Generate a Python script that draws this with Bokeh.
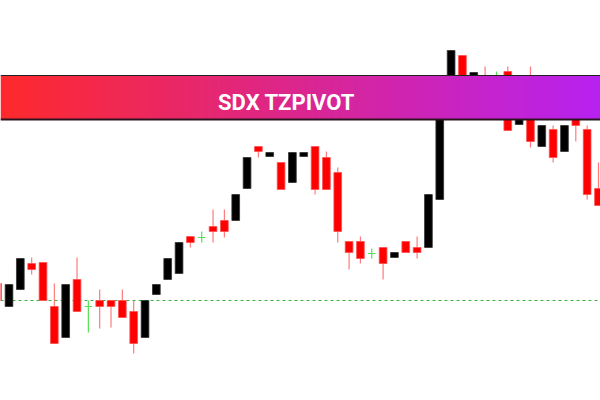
import numpy as np
from bokeh.plotting import figure
from bokeh.models import Span
from bokeh.core.properties import value
from bokeh.embed import file_html
from bokeh.resources import INLINE

# ---- data (price units) ----
idx = list(range(-1, 53))
opens = [117, 94, 111, 137, 138, 94, 63, 121, 94, 100, 100, 100, 89, 63, 106, 121, 127, 164, 163, 174, 180,
         180, 212, 254, 244, 238, 218, 244, 254, 243, 228, 159, 159, 147, 153, 143, 159, 153, 153, 201, 305,
         345, 320, 318, 312, 329, 276, 300, 254, 271, 249, 290, 271, 212]
closes = [100, 116, 142, 131, 100, 57, 116, 89, 94, 94, 94, 83, 57, 100, 116, 142, 158, 158, 163, 169, 169,
          206, 243, 249, 248, 211, 248, 248, 211, 211, 169, 148, 142, 147, 137, 148, 148, 148, 206, 300, 350,
          305, 328, 305, 312, 270, 300, 259, 275, 243, 275, 275, 206, 195]
highs = [117, 116, 142, 143, 138, 117, 116, 143, 100, 111, 100, 111, 100, 100, 116, 142, 158, 164, 169, 191, 191,
         206, 243, 254, 248, 238, 248, 248, 254, 249, 233, 159, 164, 152, 153, 148, 159, 164, 206, 300, 350,
         345, 328, 334, 329, 334, 300, 334, 275, 275, 275, 290, 275, 238]
lows = [100, 94, 111, 126, 100, 57, 63, 89, 68, 72, 73, 83, 47, 63, 106, 121, 127, 153, 158, 158, 163,
        180, 212, 243, 244, 211, 218, 244, 206, 211, 158, 131, 137, 142, 121, 143, 148, 142, 153, 201, 305,
        305, 320, 300, 300, 270, 276, 253, 254, 238, 249, 259, 201, 195]
pivot_level = 100
title_text = "SDX TZPIVOT"
banner_low, banner_high = 281, 325

# ---- figure ----
W, H = 600, 400
x0 = -8.5 / 11.336
x1 = x0 + W / 11.336
p = figure(width=W, height=H, x_range=(x0, x1), y_range=(0, 400),
           output_backend="svg", toolbar_location=None, min_border=0,
           background_fill_color="white", border_fill_color="white")
p.axis.visible = False
p.grid.visible = False
p.outline_line_color = None

p.add_layout(Span(location=pivot_level, dimension="width", line_color="#3cb043",
                  line_width=1, line_dash="3 3", level="underlay"))

o = np.array(opens, float); c = np.array(closes, float)
hi = np.array(highs, float); lo = np.array(lows, float); xs = np.array(idx, float)
up = c > o
down = c < o
doji = c == o

bw = 0.68
# wicks
p.segment(xs[down], hi[down], xs[down], lo[down], line_color="#ff7b7b", line_width=1.2)
p.segment(xs[up], hi[up], xs[up], lo[up], line_color="black", line_width=1)
p.segment(xs[doji], hi[doji], xs[doji], lo[doji], line_color="#55e055", line_width=1.2)
p.segment(xs[doji] - bw / 2, c[doji], xs[doji] + bw / 2, c[doji], line_color="#55e055", line_width=1.2)
# bodies
p.vbar(x=xs[down], width=bw, top=o[down], bottom=c[down], fill_color="#ff0000",
       line_color="#ff5050", line_width=0.8)
p.vbar(x=xs[up], width=bw, top=c[up], bottom=o[up], fill_color="#000000",
       line_color="#333333", line_width=0.8)

# banner gradient
n = 600
t = np.linspace(0, 1, n)
c_left = np.array([255, 42, 45]); c_right = np.array([184, 34, 242])
img = np.zeros((1, n), dtype=np.uint32)
view = img.view(dtype=np.uint8).reshape((1, n, 4))
for k in range(3):
    view[0, :, k] = (c_left[k] + (c_right[k] - c_left[k]) * t).astype(np.uint8)
view[0, :, 3] = 255
p.image_rgba(image=[img], x=x0, y=banner_low, dw=x1 - x0, dh=banner_high - banner_low)
p.segment(x0=[x0], y0=[banner_high], x1=[x1], y1=[banner_high], line_color="#222222", line_width=1.2)
p.segment(x0=[x0], y0=[banner_low], x1=[x1], y1=[banner_low], line_color="#2a1420", line_width=2)

p.text(x=[24.48], y=[298], text=[title_text], text_color="white",
       text_font=value("Roboto"), text_font_style="bold", text_font_size="22px",
       text_align="center", text_baseline="alphabetic")

open("out.html", "w").write(file_html(p, INLINE))
